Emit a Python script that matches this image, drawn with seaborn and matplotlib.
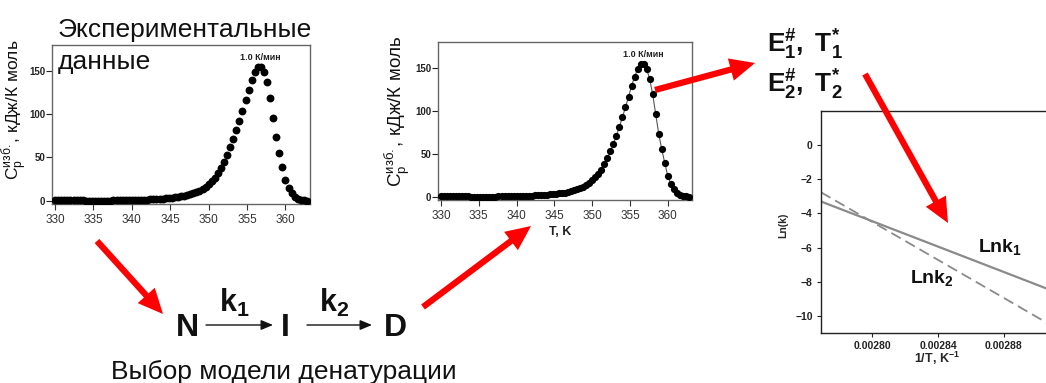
import numpy as np
import pandas as pd
import matplotlib
matplotlib.use("Agg")
import matplotlib.pyplot as plt
from matplotlib.patches import FancyArrowPatch
import seaborn as sns

W, H = 1046, 383

# DSC data (excess heat capacity), 1.0 K/min
temp_k = [330.0, 330.4, 330.8, 331.2, 331.6, 332.0, 332.4, 332.8, 333.2, 333.6,
          334.0, 334.4, 334.8, 335.2, 335.6, 336.0, 336.4, 336.8, 337.2, 337.6,
          338.0, 338.4, 338.8, 339.2, 339.6, 340.0, 340.4, 340.8, 341.2, 341.6,
          342.0, 342.4, 342.8, 343.2, 343.6, 344.0, 344.4, 344.8, 345.2, 345.6,
          346.0, 346.4, 346.8, 347.2, 347.6, 348.0, 348.4, 348.8, 349.2, 349.6,
          350.0, 350.4, 350.8, 351.2, 351.6, 352.0, 352.4, 352.8, 353.2, 353.6,
          354.0, 354.4, 354.8, 355.2, 355.6, 356.0, 356.4, 356.8, 357.2, 357.6,
          358.0, 358.4, 358.8, 359.2, 359.6, 360.0, 360.4, 360.8, 361.2, 361.6,
          362.0, 362.4, 362.8]
cp_excess = [0.4, 0.6, 0.7, 0.7, 0.6, 0.5, 0.4, 0.3, 0.2, 0.1,
             0.0, 0.0, -0.1, -0.1, -0.1, -0.1, 0.0, 0.0, 0.0, 0.1,
             0.1, 0.2, 0.3, 0.4, 0.5, 0.6, 0.7, 0.8, 0.9, 1.0,
             1.1, 1.3, 1.5, 1.7, 1.9, 2.2, 2.5, 2.8, 3.2, 3.6,
             4.1, 4.7, 5.4, 6.2, 7.2, 8.4, 9.8, 11.5, 13.5, 16.0,
             19.0, 22.5, 26.5, 31.5, 37.5, 44.5, 52.5, 61.5, 71.0, 81.5,
             92.5, 104.0, 116.0, 128.5, 139.5, 148.5, 154.0, 154.5, 148.5, 137.0,
             119.0, 96.0, 73.0, 55.0, 39.0, 24.0, 14.5, 8.5, 4.5, 2.0,
             0.8, 0.2, 0.0]
t_ticks = [330, 335, 340, 345, 350, 355, 360]
cp_ticks = [0, 50, 100, 150]

# Arrhenius plot
inv_t = [0.002769, 0.00280, 0.00284, 0.00288, 0.002914]
lnk1 = [-3.30, -4.45, -5.94, -7.43, -8.70]
lnk2 = [-2.76, -4.49, -6.72, -8.95, -10.85]
inv_t_ticks = [0.00280, 0.00284, 0.00288]
lnk_ticks = [0, -2, -4, -6, -8, -10]

sns.set_theme(style="ticks")
plt.rcParams["font.family"] = ["Liberation Sans", "DejaVu Sans"]
plt.rcParams["mathtext.fontset"] = "custom"
plt.rcParams["mathtext.rm"] = "Liberation Sans"
plt.rcParams["mathtext.it"] = "Liberation Sans:italic"
plt.rcParams["mathtext.bf"] = "Liberation Sans:bold"


def fpx(x, y):
    return x / W, 1 - y / H


def axes_box(left, top, right, bottom):
    return [left / W, 1 - bottom / H, (right - left) / W, (bottom - top) / H]


fig = plt.figure(figsize=(W / 100, H / 100), dpi=100)
fig.patch.set_facecolor("white")

ylab = "$\\mathregular{C_p^{изб.}}$, кДж/К моль"


def dsc_panel(box, with_line, dot_size, ylab_x, ylab_y, ylab_size):
    ax = fig.add_axes(box)
    if with_line:
        sns.lineplot(x=temp_k, y=cp_excess, ax=ax, color="#555555", lw=0.8)
    sns.scatterplot(x=temp_k, y=cp_excess, ax=ax, color="black", s=dot_size,
                    linewidth=0, zorder=3)
    ax.set_xlim(329.6, 363.2)
    ax.set_ylim(-4, 180)
    ax.set_xticks(t_ticks)
    ax.set_yticks(cp_ticks)
    ax.tick_params(axis="x", labelsize=8.5, length=4, width=0.8, colors="#333333",
                   pad=3)
    ax.tick_params(axis="y", labelsize=7, length=4, width=0.8, colors="#222222",
                   pad=1)
    for lbl in ax.get_yticklabels():
        lbl.set_fontweight("bold")
    for sp in ax.spines.values():
        sp.set_visible(True)
        sp.set_color("#666666")
        sp.set_linewidth(1.0)
    ax.set_xlabel("")
    ax.set_ylabel("")
    ax.text(ylab_x, ylab_y, ylab, transform=ax.transAxes, rotation=90,
            ha="center", va="center", fontsize=ylab_size, color="#111111")
    ax.text(356.7, 166, "1.0 К/мин", ha="center", va="center", fontsize=6.5,
            fontweight="bold", color="#222222")
    return ax


ax1 = dsc_panel(axes_box(52, 45, 310, 204), False, 32, -0.143, 0.59, 12.5)
ax2 = dsc_panel(axes_box(438, 42, 692, 200), True, 27, -0.16, 0.56, 13.5)
ax2.text(0.48, -0.2, "T, K", transform=ax2.transAxes, ha="center", va="center",
         fontsize=9, fontweight="bold", color="#222222")

# Arrhenius panel
ax3 = fig.add_axes(axes_box(821, 111, 1060, 333))
sns.lineplot(x=inv_t, y=lnk1, ax=ax3, color="#8a8a8a", lw=1.6)
sns.lineplot(x=inv_t, y=lnk2, ax=ax3, color="#8a8a8a", lw=1.3)
ax3.lines[1].set_dashes([6, 3])
ax3.set_xlim(0.002769, 0.002914)
ax3.set_ylim(-11, 2)
ax3.set_xticks(inv_t_ticks)
ax3.set_xticklabels([f"{v:.5f}" for v in inv_t_ticks])
ax3.set_yticks(lnk_ticks)
ax3.tick_params(labelsize=7.5, length=3, width=0.8, colors="#222222", pad=3)
for lbl in ax3.get_xticklabels() + ax3.get_yticklabels():
    lbl.set_fontweight("bold")
for sp in ax3.spines.values():
    sp.set_visible(True)
    sp.set_color("#222222")
    sp.set_linewidth(1.0)
ax3.set_xlabel("")
ax3.set_ylabel("")
ax3.text(-0.159, 0.486, "Ln(k)", transform=ax3.transAxes, rotation=90,
         ha="center", va="center", fontsize=7.5, fontweight="bold")
ax3.text(0.485, -0.113, "1/T, K$^{\\mathbf{-1}}$", transform=ax3.transAxes,
         ha="center", va="center", fontsize=9, fontweight="bold")
ax3.text(0.002864, -5.96, "Lnk$_\\mathbf{1}$", ha="left", va="center",
         fontsize=14, fontweight="bold", color="#111111")
ax3.text(0.002823, -7.78, "Lnk$_\\mathbf{2}$", ha="left", va="center",
         fontsize=14, fontweight="bold", color="#111111")

# texts
fig.text(*fpx(58, 30), "Экспериментальные", ha="left", va="center",
         fontsize=19, color="#111111")
fig.text(*fpx(58, 62), "данные", ha="left", va="center", fontsize=19,
         color="#111111")
fig.text(*fpx(767, 45), "$\\mathbf{E_1^{\\#},\\ T_1^{*}}$", ha="left",
         va="center", fontsize=19, color="#111111")
fig.text(*fpx(767, 85), "$\\mathbf{E_2^{\\#},\\ T_2^{*}}$", ha="left",
         va="center", fontsize=19, color="#111111")

# kinetic scheme
for x, s in [(187, "N"), (285, "I"), (395, "D")]:
    fig.text(*fpx(x, 328), s, ha="center", va="center", fontsize=23,
             fontweight="bold", color="#111111")
fig.text(*fpx(234, 303), "$\\mathbf{k_1}$", ha="center", va="center",
         fontsize=22, color="#111111")
fig.text(*fpx(334, 303), "$\\mathbf{k_2}$", ha="center", va="center",
         fontsize=22, color="#111111")
for x0, x1 in [(206, 273), (307, 372)]:
    fig.add_artist(FancyArrowPatch(fpx(x0, 325), fpx(x1, 325),
                                   transform=fig.transFigure,
                                   arrowstyle="-|>,head_length=0.6,head_width=0.25",
                                   mutation_scale=12, color="#111111", lw=1.0,
                                   shrinkA=0, shrinkB=0))
fig.text(*fpx(284, 372), "Выбор модели денатурации", ha="center", va="center",
         fontsize=19, color="#111111")

# red arrows
for (x0, y0), (x1, y1) in [((97, 241), (163, 314)), ((423, 307), (531, 226)),
                           ((655, 90), (755, 63)), ((865, 74), (948, 223))]:
    fig.add_artist(FancyArrowPatch(fpx(x0, y0), fpx(x1, y1),
                                   transform=fig.transFigure,
                                   arrowstyle="simple,head_length=1.2,head_width=1.1,tail_width=0.3",
                                   mutation_scale=15, color="#ff0000", lw=0,
                                   shrinkA=0, shrinkB=0, zorder=10))

fig.savefig("out.png", dpi=100)
